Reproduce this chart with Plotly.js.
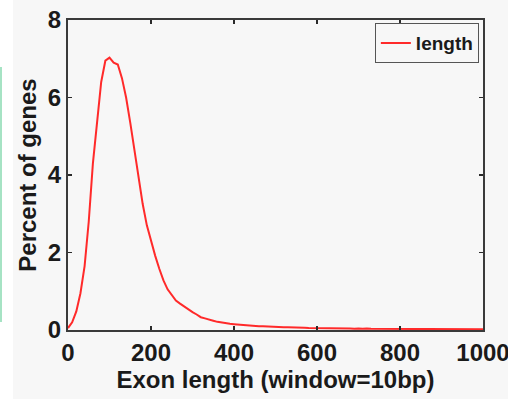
<!DOCTYPE html>
<html>
<head>
<meta charset="utf-8">
<script src="https://cdn.plot.ly/plotly-3.0.1.min.js"></script>
<style>
  html, body { margin: 0; padding: 0; background: #ffffff; width: 508px; height: 399px; overflow: hidden; }
  #strip { position: absolute; left: 0; top: 67px; width: 2px; height: 255px; background: #a6e3c4; }
  #chart { position: absolute; left: 13px; top: 0; width: 495px; height: 399px; }
</style>
</head>
<body>
<div id="strip"></div>
<div id="chart"></div>
<script>
const exonLength = [
  0, 10, 20, 30, 40, 50, 60, 70, 80, 90,
  100, 110, 120, 130, 140, 150, 160, 170, 180, 190,
  200, 210, 220, 230, 240, 250, 260, 270, 280, 290,
  300, 310, 320, 330, 340, 350, 360, 370, 380, 390,
  400, 410, 420, 430, 440, 450, 460, 470, 480, 490,
  500, 510, 520, 530, 540, 550, 560, 570, 580, 590,
  600, 610, 620, 630, 640, 650, 660, 670, 680, 690,
  700, 710, 720, 730, 740, 750, 760, 770, 780, 790,
  800, 810, 820, 830, 840, 850, 860, 870, 880, 890,
  900, 910, 920, 930, 940, 950, 960, 970, 980, 990,
  1000
];
const percentGenes = [
  0.05, 0.2, 0.48, 0.95, 1.65, 2.8, 4.3, 5.4, 6.4, 6.95,
  7.03, 6.9, 6.85, 6.5, 6.0, 5.35, 4.65, 3.95, 3.25, 2.7,
  2.28, 1.92, 1.58, 1.28, 1.05, 0.9, 0.76, 0.68, 0.6, 0.52,
  0.46, 0.4, 0.33, 0.3, 0.26, 0.24, 0.21, 0.19, 0.18, 0.16,
  0.15, 0.14, 0.13, 0.12, 0.12, 0.11, 0.1, 0.1, 0.09, 0.09,
  0.08, 0.08, 0.07, 0.07, 0.07, 0.06, 0.06, 0.06, 0.05, 0.05,
  0.05, 0.05, 0.04, 0.05, 0.04, 0.04, 0.04, 0.04, 0.04, 0.03,
  0.04, 0.03, 0.04, 0.03, 0.03, 0.03, 0.03, 0.03, 0.03, 0.03,
  0.03, 0.03, 0.03, 0.02, 0.03, 0.03, 0.02, 0.03, 0.02, 0.02,
  0.03, 0.02, 0.02, 0.03, 0.02, 0.02, 0.02, 0.02, 0.02, 0.02,
  0.02
];
const xTicks = [0, 200, 400, 600, 800, 1000];
const yTicks = [0, 2, 4, 6, 8];

const font = { family: 'Liberation Sans, Arial, sans-serif', color: '#1a1a1a', size: 24, weight: 'bold' };

const trace = {
  x: exonLength,
  y: percentGenes,
  type: 'scatter',
  mode: 'lines',
  name: 'length',
  line: { color: '#ff2a2a', width: 2 }
};

const axisCommon = {
  showgrid: false,
  zeroline: false,
  showline: true,
  linecolor: '#3a3a3a',
  linewidth: 2,
  mirror: 'ticks',
  ticks: 'inside',
  ticklen: 4,
  tickwidth: 1.5,
  tickcolor: '#2a2a2a',
  tickfont: font,
  ticklabeloverflow: 'allow'
};

const layout = {
  width: 495,
  height: 399,
  margin: { l: 55, r: 25, t: 20, b: 69 },
  paper_bgcolor: '#f7f7f7',
  plot_bgcolor: '#f7f7f7',
  showlegend: true,
  legend: {
    x: 0.99, y: 0.99, xanchor: 'right', yanchor: 'top',
    bgcolor: '#f7f7f7', bordercolor: '#555555', borderwidth: 1,
    font: { family: 'Liberation Sans, Arial, sans-serif', size: 19, color: '#1a1a1a', weight: 'bold' }
  },
  xaxis: Object.assign({}, axisCommon, {
    range: [0, 1000],
    tickvals: xTicks,
    ticktext: xTicks.map(String),
    title: { text: 'Exon length (window=10bp)', font: font, standoff: 2 }
  }),
  yaxis: Object.assign({}, axisCommon, {
    range: [0, 8],
    tickvals: yTicks,
    ticktext: yTicks.map(String),
    title: { text: 'Percent of genes', font: font, standoff: 4 }
  })
};

Plotly.newPlot('chart', [trace], layout, { displayModeBar: false, staticPlot: true });
</script>
</body>
</html>
